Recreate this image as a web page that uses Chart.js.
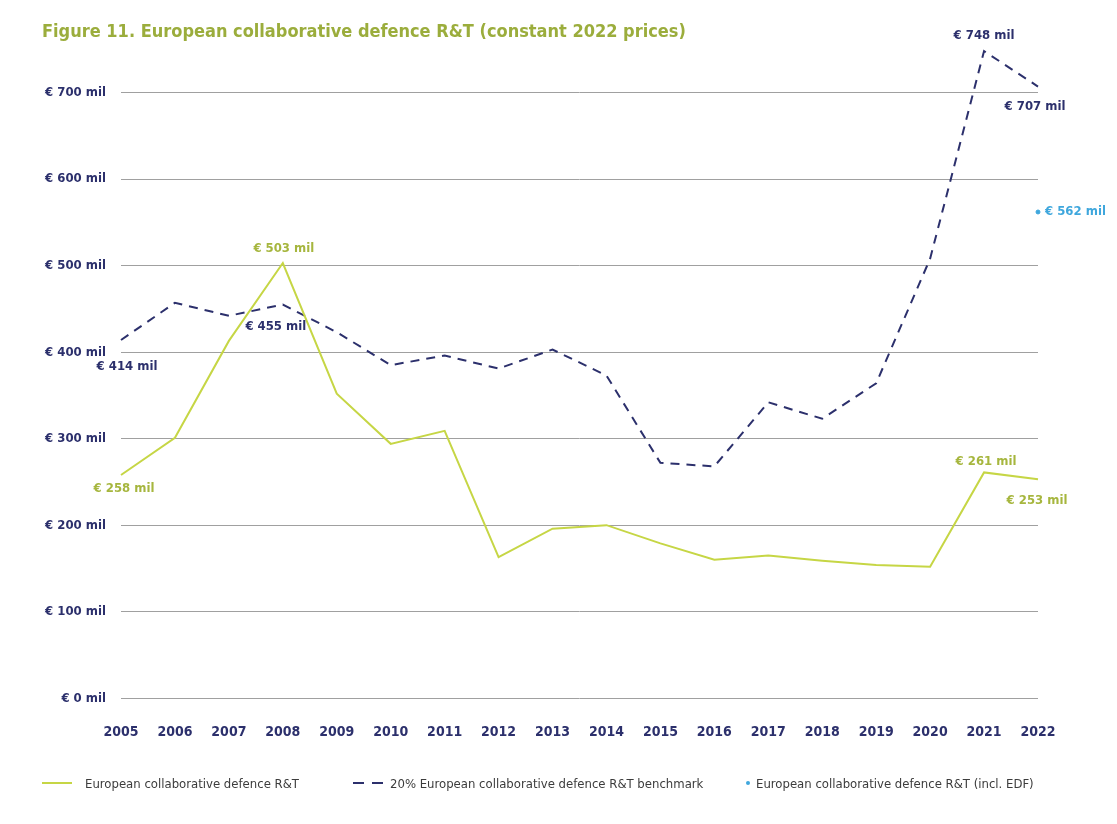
<!DOCTYPE html>
<html>
<head>
<meta charset="utf-8">
<script src="https://cdn.jsdelivr.net/npm/chart.js@4/dist/chart.umd.min.js"></script>
<style>
  html, body { margin: 0; padding: 0; background: #fff; }
  #wrap { width: 1117px; height: 824px; position: relative; }
  #legend { position: absolute; top: 773px; left: 0; width: 1117px; height: 20px;
            font-family: 'Liberation Sans Narrow', 'DejaVu Sans Condensed', sans-serif;
            font-size: 13px; color: #3c3c3c; }
  .item { position: absolute; top: 0; height: 20px; display: flex; align-items: center; white-space: nowrap; }
  .swatch { display: inline-block; width: 30px; margin-right: 13px; }
  .dot { display: inline-block; width: 4px; height: 4px; border-radius: 50%; margin-right: 6px; }
</style>
</head>
<body>
<div id="wrap">
  <canvas id="rtChart" width="1117" height="824"></canvas>
  <div id="legend"></div>
</div>
<script>
const FONT = "'Liberation Sans Narrow', 'DejaVu Sans Condensed', 'Roboto', sans-serif";

// Data
const years = ['2005', '2006', '2007', '2008', '2009', '2010', '2011', '2012', '2013',
               '2014', '2015', '2016', '2017', '2018', '2019', '2020', '2021', '2022'];
const collabRT = [258, 301, 413, 503, 352, 294, 309, 163, 196, 200, 179, 160, 165, 159, 154, 152, 261, 253];
const benchmark = [414, 457, 442, 455, 423, 385, 396, 381, 403, 373, 272, 268, 342, 323, 364, 508, 748, 707];
const inclEDF = [null, null, null, null, null, null, null, null, null,
                 null, null, null, null, null, null, null, null, 562];
const yTicks = [0, 100, 200, 300, 400, 500, 600, 700];
const seriesNames = ['European collaborative defence R&T',
                     '20% European collaborative defence R&T benchmark',
                     'European collaborative defence R&T (incl. EDF)'];

const GREEN = '#c6d645';
const GREEN_TEXT = '#a6b63e';
const NAVY = '#2c306c';
const LIGHTBLUE = '#3fa7dd';

function mil(v) { return '€ ' + v + ' mil'; }

// which points get a value label: [dataset, index, dx, dy, align]
const labelSpots = [
    [0, 0, 3, 14, 'center'],
    [0, 3, 1, -14, 'center'],
    [0, 16, 2, -11, 'center'],
    [0, 17, -1, 21, 'center'],
    [1, 0, 6, 27, 'center'],
    [1, 3, -7, 22, 'center'],
    [1, 16, 0, -15, 'center'],
    [1, 17, -3, 20, 'center'],
    [2, 17, 7, 0, 'left']
];

const valueLabels = {
    id: 'valueLabels',
    afterDatasetsDraw(chart) {
        const ctx = chart.ctx;
        ctx.save();
        ctx.font = 'bold 13px ' + FONT;
        ctx.textBaseline = 'middle';
        labelSpots.forEach(([ds, i, dx, dy, align]) => {
            const pt = chart.getDatasetMeta(ds).data[i];
            const v = chart.data.datasets[ds].data[i];
            ctx.fillStyle = ds === 0 ? GREEN_TEXT : (ds === 1 ? NAVY : LIGHTBLUE);
            ctx.textAlign = align;
            ctx.fillText(mil(v), pt.x + dx, pt.y + dy);
        });
        ctx.restore();
    }
};

new Chart(document.getElementById('rtChart'), {
    type: 'line',
    data: {
        labels: years,
        datasets: [{
            label: seriesNames[0],
            data: collabRT,
            borderColor: GREEN,
            backgroundColor: GREEN,
            borderWidth: 2,
            pointRadius: 0,
            tension: 0,
            clip: false
        }, {
            label: seriesNames[1],
            data: benchmark,
            borderColor: NAVY,
            backgroundColor: NAVY,
            borderWidth: 2,
            borderDash: [9, 7],
            pointRadius: 0,
            tension: 0,
            clip: false
        }, {
            label: seriesNames[2],
            data: inclEDF,
            borderColor: LIGHTBLUE,
            backgroundColor: LIGHTBLUE,
            showLine: false,
            pointRadius: 2,
            pointStyle: 'circle',
            clip: false
        }]
    },
    options: {
        responsive: false,
        animation: false,
        layout: { padding: { top: 0, right: 79, bottom: 65, left: 42 } },
        plugins: {
            title: {
                display: true,
                text: 'Figure 11. European collaborative defence R&T (constant 2022 prices)',
                align: 'start',
                color: '#9bad3c',
                font: { family: FONT, size: 18, weight: 'bold' },
                padding: { top: 22, bottom: 49 }
            },
            legend: { display: false },
            tooltip: { enabled: false }
        },
        scales: {
            x: {
                offset: false,
                grid: { display: false },
                border: { display: false },
                ticks: {
                    color: NAVY,
                    padding: 18,
                    maxRotation: 0,
                    font: { family: FONT, size: 14, weight: 'bold' }
                }
            },
            y: {
                min: 0,
                max: 700,
                afterBuildTicks(axis) { axis.ticks = yTicks.map(v => ({ value: v })); },
                afterFit(axis) { axis.width = 79; },
                grid: { color: '#a0a0a0', lineWidth: 1, drawTicks: false },
                border: { display: false },
                ticks: {
                    color: NAVY,
                    padding: 15,
                    font: { family: FONT, size: 13, weight: 'bold' },
                    callback: (v) => mil(v)
                }
            }
        }
    },
    plugins: [valueLabels]
});

// legend below the plot
const legendSpots = [42, 353, 746];
const legendEl = document.getElementById('legend');
seriesNames.forEach((name, i) => {
    const item = document.createElement('div');
    item.className = 'item';
    item.style.left = legendSpots[i] + 'px';
    const mark = document.createElement('span');
    if (i === 0) {
        mark.className = 'swatch';
        mark.style.borderTop = '2px solid ' + GREEN;
    } else if (i === 1) {
        mark.className = 'swatch';
        mark.style.height = '2px';
        mark.style.background = 'repeating-linear-gradient(to right, ' + NAVY + ' 0 11px, transparent 11px 19px)';
        mark.style.marginRight = '7px';
    } else {
        mark.className = 'dot';
        mark.style.background = LIGHTBLUE;
    }
    item.appendChild(mark);
    item.appendChild(document.createTextNode(name));
    legendEl.appendChild(item);
});
</script>
</body>
</html>
